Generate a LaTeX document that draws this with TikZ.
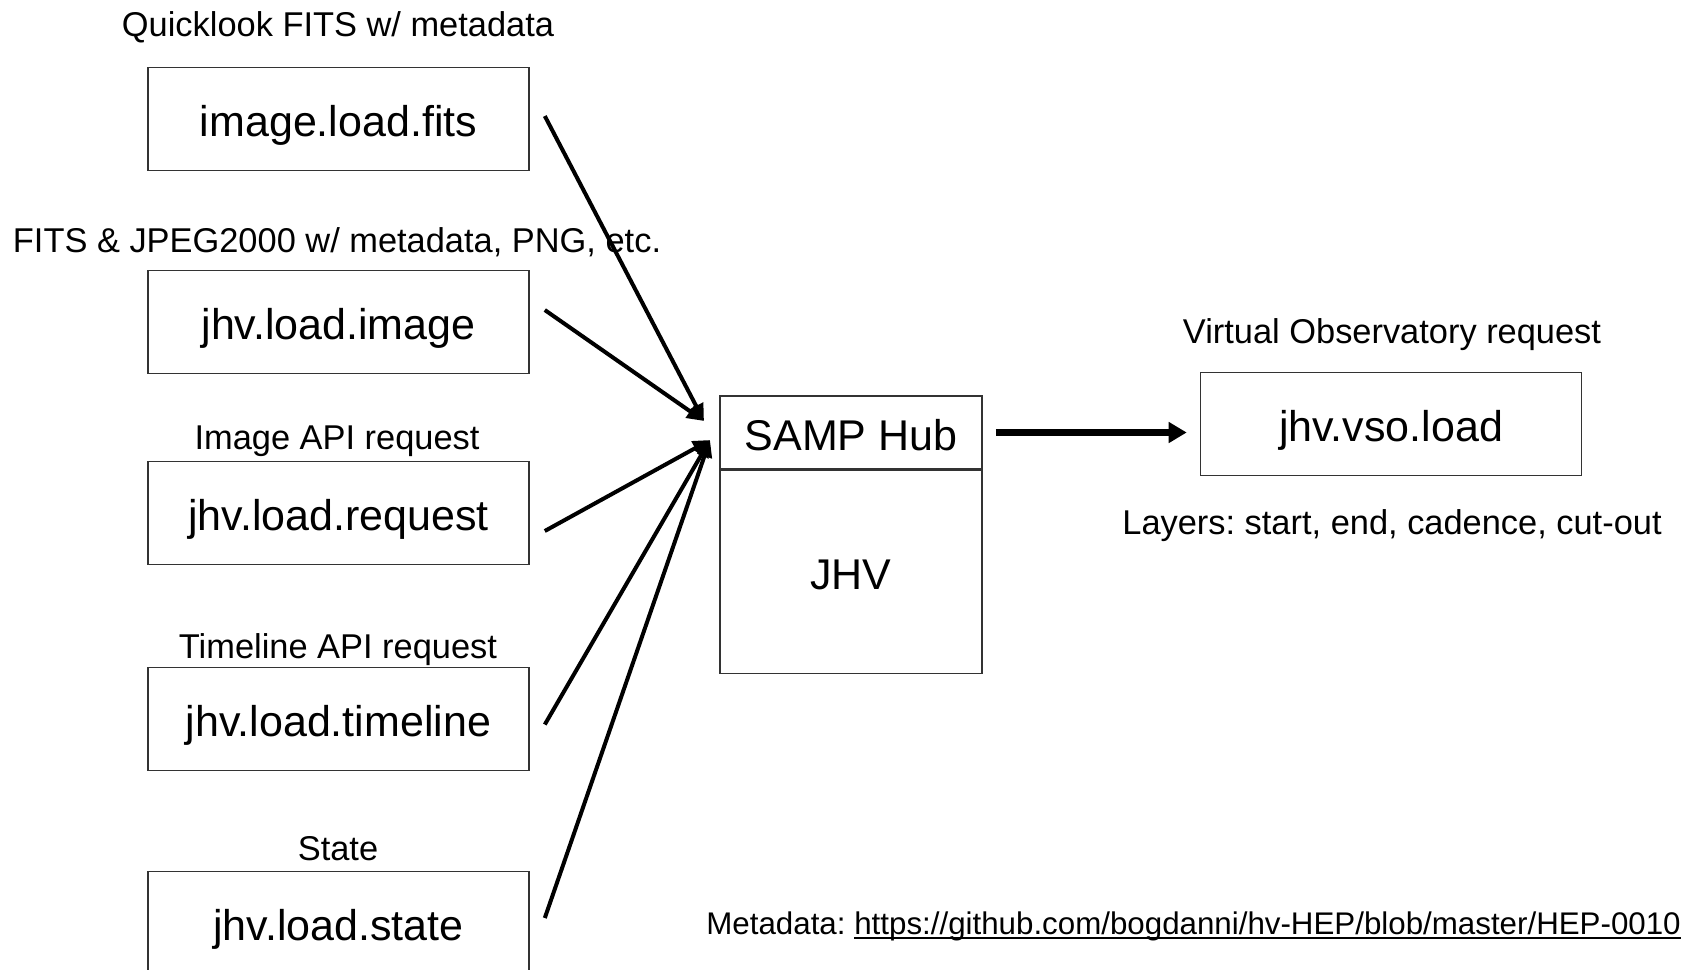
\documentclass[tikz,border=0pt]{standalone}
\usepackage{fontspec}
\setmainfont{Liberation Sans}
\usetikzlibrary{arrows.meta,calc}
\frenchspacing

\tikzset{
  callbox/.style={draw=black!80, line width=0.8pt, minimum width=190.5pt, minimum height=51.5pt,
    inner sep=0pt, text height=17.5pt, text depth=0pt, font=\fontsize{21.5}{26}\selectfont},
  calllabel/.style={anchor=base, inner sep=0pt, font=\fontsize{17.2}{20}\selectfont},
  feed/.style={line width=2pt, -{Triangle[length=8.5pt,width=7.5pt]}},
}
\newcommand{\urlline}[1]{\setbox0\hbox{#1}\rlap{\rule[-2.5pt]{\wd0}{0.9pt}}\box0}

\begin{document}
\begin{tikzpicture}[x=0.5pt, y=-0.5pt]
            \useasboundingbox (0,0) rectangle (1683,970);

            % Calls sent to the hub
            \node[callbox] (fits) at (338.5,119) {image.load.fits};
            \node[calllabel] (fitslabel) at (338,36) {Quicklook FITS w/ metadata};

            \node[callbox] (image) at (338.5,322) {jhv.load.image};
            \node[calllabel] (imagelabel) at (337,252.5) {FITS \& JPEG2000 w/ metadata, PNG, etc.};

            \node[callbox] (request) at (338.5,513) {jhv.load.request};
            \node[calllabel] (requestlabel) at (337,449) {Image API request};

            \node[callbox] (timeline) at (338.5,719) {jhv.load.timeline};
            \node[calllabel] (timelinelabel) at (338,658) {Timeline API request};

            \node[callbox] (state) at (338.5,923) {jhv.load.state};
            \node[calllabel] (statelabel) at (338,860) {State};

            % Hub inside JHV
            \node[callbox, minimum width=131pt, minimum height=36.5pt] (hub) at (851,432.5) {SAMP Hub};
            \node[callbox, minimum width=131pt, minimum height=101.5pt, anchor=north] (jhv) at (hub.south) {JHV};

            \coordinate (hubin1) at (704,421);
            \coordinate (hubin2) at (710,440);

            \foreach \src/\dy/\dst in {fits/1.5pt/hubin1, image/6pt/hubin1, request/-9pt/hubin2,
                                       timeline/-2.75pt/hubin2, state/2.5pt/hubin2} {
                \draw[feed] ([xshift=7.5pt, yshift=\dy]\src.east) -- (\dst);
            }

            % VSO request
            \node[callbox] (vso) at (1391,424) {jhv.vso.load};
            \node[calllabel] (vsolabel) at (1392,343) {Virtual Observatory request};
            \node[calllabel] (layerslabel) at (1392,534) {Layers: start, end, cadence, cut-out};

            \draw[line width=3.3pt, -{Triangle[length=9pt,width=10pt]}, shorten <=6.5pt, shorten >=6.5pt]
                (hub.east) -- (hub.east -| vso.west);

            \node[anchor=base west, inner sep=0pt, font=\fontsize{15.65}{18}\selectfont] (meta) at (706,934)
                {Metadata: \urlline{https://github.com/bogdanni/hv-HEP/blob/master/HEP-0010}};
        \end{tikzpicture}
\end{document}
